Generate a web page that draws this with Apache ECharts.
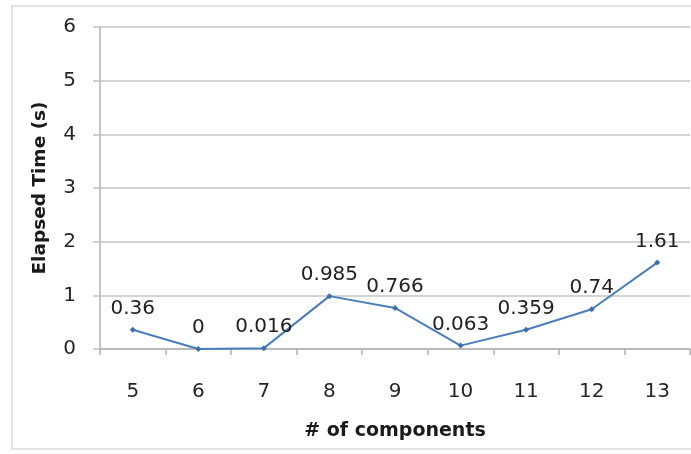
<!DOCTYPE html>
<html>
<head>
<meta charset="utf-8">
<script src="https://cdn.jsdelivr.net/npm/echarts@6/dist/echarts.min.js"></script>
<style>
  html, body { margin: 0; padding: 0; background: #fff; }
  #chart { width: 691px; height: 454px; }
</style>
</head>
<body>
<div id="chart"></div>
<script>
// Number of components on the x axis
const components = ['5', '6', '7', '8', '9', '10', '11', '12', '13'];
// Elapsed time in seconds for each component count
const elapsedTime = [0.36, 0, 0.016, 0.985, 0.766, 0.063, 0.359, 0.74, 1.61];
// Value-axis range
const yMin = 0;
const yMax = 6;
const yStep = 1;

const FONT = '"DejaVu Sans", sans-serif';
const chart = echarts.init(document.getElementById('chart'), null, { renderer: 'canvas' });

chart.setOption({
  animation: false,
  backgroundColor: '#ffffff',
  graphic: [
    {
      type: 'rect',
      silent: true,
      z: -1,
      shape: { x: 12, y: 6, width: 700, height: 443 },
      style: { fill: 'none', stroke: '#dadada', lineWidth: 1.5 }
    }
  ],
  grid: { left: 100, right: 1, top: 27, bottom: 105 },
  xAxis: {
    type: 'category',
    data: components,
    boundaryGap: true,
    name: '# of components',
    nameLocation: 'middle',
    nameGap: 73,
    nameTextStyle: { fontFamily: FONT, fontWeight: 'bold', fontSize: 19, color: '#1a1a1a' },
    axisLine: { show: true, lineStyle: { color: '#b3b3b3', width: 1.5 } },
    axisTick: { show: true, length: 6, lineStyle: { color: '#b3b3b3', width: 1.5 } },
    axisLabel: { fontFamily: FONT, fontSize: 20, color: '#262626', margin: 33 },
    splitLine: { show: false }
  },
  yAxis: {
    type: 'value',
    min: yMin,
    max: yMax,
    interval: yStep,
    name: 'Elapsed Time (s)',
    nameLocation: 'middle',
    nameRotate: 90,
    nameGap: 50,
    nameTextStyle: { fontFamily: FONT, fontWeight: 'bold', fontSize: 18.5, color: '#1a1a1a' },
    axisLine: { show: true, lineStyle: { color: '#b3b3b3', width: 1.5 } },
    axisTick: { show: true, length: 7, lineStyle: { color: '#c4c4c4', width: 1.5 } },
    axisLabel: { fontFamily: FONT, fontSize: 20, color: '#262626', margin: 24 },
    splitLine: { show: true, lineStyle: { color: '#c4c4c4', width: 1.5 } }
  },
  series: [
    {
      type: 'line',
      data: elapsedTime,
      symbol: 'diamond',
      symbolSize: 6,
      itemStyle: { color: '#3f6fa8' },
      lineStyle: { color: '#4a7ebb', width: 2 },
      label: {
        show: true,
        position: 'top',
        distance: 8,
        fontFamily: FONT,
        fontSize: 20,
        color: '#222222',
        formatter: (p) => String(p.value)
      }
    }
  ]
});
</script>
</body>
</html>
